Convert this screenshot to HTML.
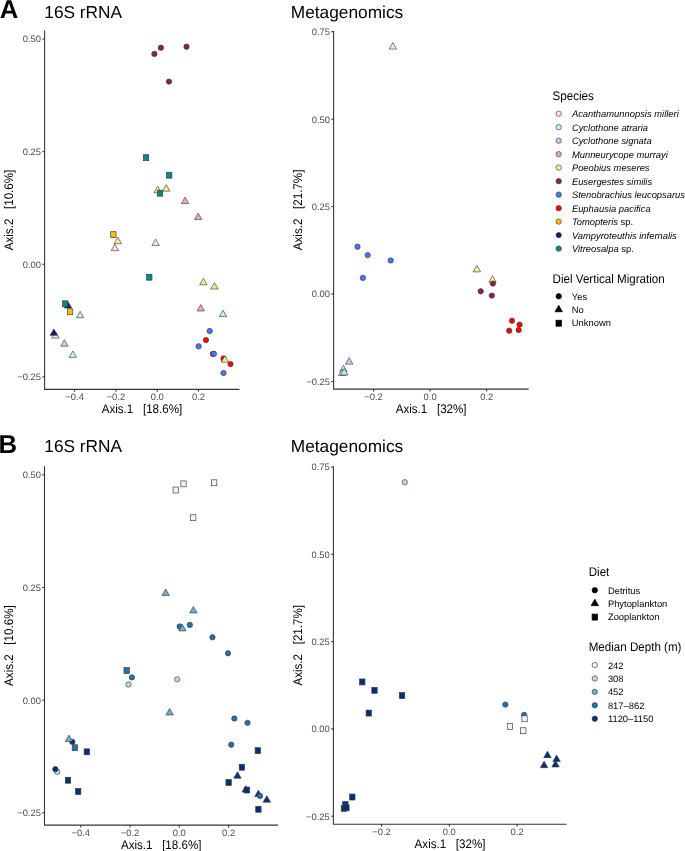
<!DOCTYPE html>
<html><head><meta charset="utf-8"><style>
html,body{margin:0;padding:0;background:#fff;width:685px;height:851px;overflow:hidden}
svg{display:block;will-change:transform}
text{font-family:"Liberation Sans", sans-serif;text-rendering:geometricPrecision;white-space:pre}
</style></head><body>
<svg width="685" height="851" viewBox="0 0 685 851">
<rect width="685" height="851" fill="#fff"/>
<text transform="translate(-0.20,18.00) scale(1,1.0)" font-size="25.7" text-anchor="start" fill="#000" font-weight="bold" font-style="normal" >A</text>
<text transform="translate(-1.60,452.90) scale(1,1.0)" font-size="25.7" text-anchor="start" fill="#000" font-weight="bold" font-style="normal" >B</text>
<text transform="translate(44.30,17.70) scale(1,1.0)" font-size="17.3" text-anchor="start" fill="#000" font-weight="normal" font-style="normal" >16S rRNA</text>
<text transform="translate(290.80,17.70) scale(1,1.0)" font-size="17.3" text-anchor="start" fill="#000" font-weight="normal" font-style="normal" >Metagenomics</text>
<text transform="translate(44.30,452.40) scale(1,1.0)" font-size="17.3" text-anchor="start" fill="#000" font-weight="normal" font-style="normal" >16S rRNA</text>
<text transform="translate(290.80,452.40) scale(1,1.0)" font-size="17.3" text-anchor="start" fill="#000" font-weight="normal" font-style="normal" >Metagenomics</text>
<path d="M44.60,30.50 V389.40 H239.40" fill="none" stroke="#000" stroke-width="1.07" stroke-linecap="butt" stroke-linejoin="miter" opacity="0.8"/>
<line x1="42.30" y1="39.05" x2="44.60" y2="39.05" stroke="#333333" stroke-width="1.07"/>
<text transform="translate(41.00,42.40) scale(1,1.0)" font-size="9.4" text-anchor="end" fill="#4D4D4D" font-weight="normal" font-style="normal" >0.50</text>
<line x1="42.30" y1="151.68" x2="44.60" y2="151.68" stroke="#333333" stroke-width="1.07"/>
<text transform="translate(41.00,155.03) scale(1,1.0)" font-size="9.4" text-anchor="end" fill="#4D4D4D" font-weight="normal" font-style="normal" >0.25</text>
<line x1="42.30" y1="264.30" x2="44.60" y2="264.30" stroke="#333333" stroke-width="1.07"/>
<text transform="translate(41.00,267.65) scale(1,1.0)" font-size="9.4" text-anchor="end" fill="#4D4D4D" font-weight="normal" font-style="normal" >0.00</text>
<line x1="42.30" y1="376.93" x2="44.60" y2="376.93" stroke="#333333" stroke-width="1.07"/>
<text transform="translate(41.00,380.28) scale(1,1.0)" font-size="9.4" text-anchor="end" fill="#4D4D4D" font-weight="normal" font-style="normal" >−0.25</text>
<line x1="74.60" y1="389.40" x2="74.60" y2="391.70" stroke="#333333" stroke-width="1.07"/>
<text transform="translate(74.60,400.30) scale(1,1.0)" font-size="9.4" text-anchor="middle" fill="#4D4D4D" font-weight="normal" font-style="normal" >−0.4</text>
<line x1="115.90" y1="389.40" x2="115.90" y2="391.70" stroke="#333333" stroke-width="1.07"/>
<text transform="translate(115.90,400.30) scale(1,1.0)" font-size="9.4" text-anchor="middle" fill="#4D4D4D" font-weight="normal" font-style="normal" >−0.2</text>
<line x1="157.20" y1="389.40" x2="157.20" y2="391.70" stroke="#333333" stroke-width="1.07"/>
<text transform="translate(157.20,400.30) scale(1,1.0)" font-size="9.4" text-anchor="middle" fill="#4D4D4D" font-weight="normal" font-style="normal" >0.0</text>
<line x1="198.50" y1="389.40" x2="198.50" y2="391.70" stroke="#333333" stroke-width="1.07"/>
<text transform="translate(198.50,400.30) scale(1,1.0)" font-size="9.4" text-anchor="middle" fill="#4D4D4D" font-weight="normal" font-style="normal" >0.2</text>
<text transform="translate(142.00,412.90) scale(1,1.08)" font-size="11.6" text-anchor="middle" fill="#000" font-weight="normal" font-style="normal" xml:space="preserve">Axis.1   [18.6%]</text>
<text x="0" y="0" font-size="11.6" text-anchor="middle" fill="#000" xml:space="preserve" transform="translate(12.90,209.95) rotate(-90) scale(1,1.08)">Axis.2   [10.6%]</text>
<path d="M333.60,30.70 V389.10 H528.70" fill="none" stroke="#000" stroke-width="1.07" stroke-linecap="butt" stroke-linejoin="miter" opacity="0.8"/>
<line x1="331.30" y1="31.70" x2="333.60" y2="31.70" stroke="#333333" stroke-width="1.07"/>
<text transform="translate(330.00,35.05) scale(1,1.0)" font-size="9.4" text-anchor="end" fill="#4D4D4D" font-weight="normal" font-style="normal" >0.75</text>
<line x1="331.30" y1="119.15" x2="333.60" y2="119.15" stroke="#333333" stroke-width="1.07"/>
<text transform="translate(330.00,122.50) scale(1,1.0)" font-size="9.4" text-anchor="end" fill="#4D4D4D" font-weight="normal" font-style="normal" >0.50</text>
<line x1="331.30" y1="206.60" x2="333.60" y2="206.60" stroke="#333333" stroke-width="1.07"/>
<text transform="translate(330.00,209.95) scale(1,1.0)" font-size="9.4" text-anchor="end" fill="#4D4D4D" font-weight="normal" font-style="normal" >0.25</text>
<line x1="331.30" y1="294.05" x2="333.60" y2="294.05" stroke="#333333" stroke-width="1.07"/>
<text transform="translate(330.00,297.40) scale(1,1.0)" font-size="9.4" text-anchor="end" fill="#4D4D4D" font-weight="normal" font-style="normal" >0.00</text>
<line x1="331.30" y1="381.50" x2="333.60" y2="381.50" stroke="#333333" stroke-width="1.07"/>
<text transform="translate(330.00,384.85) scale(1,1.0)" font-size="9.4" text-anchor="end" fill="#4D4D4D" font-weight="normal" font-style="normal" >−0.25</text>
<line x1="373.54" y1="389.10" x2="373.54" y2="391.40" stroke="#333333" stroke-width="1.07"/>
<text transform="translate(373.54,400.00) scale(1,1.0)" font-size="9.4" text-anchor="middle" fill="#4D4D4D" font-weight="normal" font-style="normal" >−0.2</text>
<line x1="430.10" y1="389.10" x2="430.10" y2="391.40" stroke="#333333" stroke-width="1.07"/>
<text transform="translate(430.10,400.00) scale(1,1.0)" font-size="9.4" text-anchor="middle" fill="#4D4D4D" font-weight="normal" font-style="normal" >0.0</text>
<line x1="486.66" y1="389.10" x2="486.66" y2="391.40" stroke="#333333" stroke-width="1.07"/>
<text transform="translate(486.66,400.00) scale(1,1.0)" font-size="9.4" text-anchor="middle" fill="#4D4D4D" font-weight="normal" font-style="normal" >0.2</text>
<text transform="translate(431.15,412.60) scale(1,1.08)" font-size="11.6" text-anchor="middle" fill="#000" font-weight="normal" font-style="normal" xml:space="preserve">Axis.1   [32%]</text>
<text x="0" y="0" font-size="11.6" text-anchor="middle" fill="#000" xml:space="preserve" transform="translate(302.40,209.90) rotate(-90) scale(1,1.08)">Axis.2   [21.7%]</text>
<path d="M44.50,466.10 V825.10 H277.90" fill="none" stroke="#000" stroke-width="1.07" stroke-linecap="butt" stroke-linejoin="miter" opacity="0.8"/>
<line x1="42.20" y1="474.85" x2="44.50" y2="474.85" stroke="#333333" stroke-width="1.07"/>
<text transform="translate(40.90,478.20) scale(1,1.0)" font-size="9.4" text-anchor="end" fill="#4D4D4D" font-weight="normal" font-style="normal" >0.50</text>
<line x1="42.20" y1="587.53" x2="44.50" y2="587.53" stroke="#333333" stroke-width="1.07"/>
<text transform="translate(40.90,590.88) scale(1,1.0)" font-size="9.4" text-anchor="end" fill="#4D4D4D" font-weight="normal" font-style="normal" >0.25</text>
<line x1="42.20" y1="700.20" x2="44.50" y2="700.20" stroke="#333333" stroke-width="1.07"/>
<text transform="translate(40.90,703.55) scale(1,1.0)" font-size="9.4" text-anchor="end" fill="#4D4D4D" font-weight="normal" font-style="normal" >0.00</text>
<line x1="42.20" y1="812.88" x2="44.50" y2="812.88" stroke="#333333" stroke-width="1.07"/>
<text transform="translate(40.90,816.23) scale(1,1.0)" font-size="9.4" text-anchor="end" fill="#4D4D4D" font-weight="normal" font-style="normal" >−0.25</text>
<line x1="80.74" y1="825.10" x2="80.74" y2="827.40" stroke="#333333" stroke-width="1.07"/>
<text transform="translate(80.74,836.00) scale(1,1.0)" font-size="9.4" text-anchor="middle" fill="#4D4D4D" font-weight="normal" font-style="normal" >−0.4</text>
<line x1="130.02" y1="825.10" x2="130.02" y2="827.40" stroke="#333333" stroke-width="1.07"/>
<text transform="translate(130.02,836.00) scale(1,1.0)" font-size="9.4" text-anchor="middle" fill="#4D4D4D" font-weight="normal" font-style="normal" >−0.2</text>
<line x1="179.30" y1="825.10" x2="179.30" y2="827.40" stroke="#333333" stroke-width="1.07"/>
<text transform="translate(179.30,836.00) scale(1,1.0)" font-size="9.4" text-anchor="middle" fill="#4D4D4D" font-weight="normal" font-style="normal" >0.0</text>
<line x1="228.58" y1="825.10" x2="228.58" y2="827.40" stroke="#333333" stroke-width="1.07"/>
<text transform="translate(228.58,836.00) scale(1,1.0)" font-size="9.4" text-anchor="middle" fill="#4D4D4D" font-weight="normal" font-style="normal" >0.2</text>
<text transform="translate(161.20,848.60) scale(1,1.08)" font-size="11.6" text-anchor="middle" fill="#000" font-weight="normal" font-style="normal" xml:space="preserve">Axis.1   [18.6%]</text>
<text x="0" y="0" font-size="11.6" text-anchor="middle" fill="#000" xml:space="preserve" transform="translate(12.90,645.60) rotate(-90) scale(1,1.08)">Axis.2   [10.6%]</text>
<path d="M333.40,466.20 V824.30 H566.70" fill="none" stroke="#000" stroke-width="1.07" stroke-linecap="butt" stroke-linejoin="miter" opacity="0.8"/>
<line x1="331.10" y1="467.00" x2="333.40" y2="467.00" stroke="#333333" stroke-width="1.07"/>
<text transform="translate(329.80,470.35) scale(1,1.0)" font-size="9.4" text-anchor="end" fill="#4D4D4D" font-weight="normal" font-style="normal" >0.75</text>
<line x1="331.10" y1="554.30" x2="333.40" y2="554.30" stroke="#333333" stroke-width="1.07"/>
<text transform="translate(329.80,557.65) scale(1,1.0)" font-size="9.4" text-anchor="end" fill="#4D4D4D" font-weight="normal" font-style="normal" >0.50</text>
<line x1="331.10" y1="641.60" x2="333.40" y2="641.60" stroke="#333333" stroke-width="1.07"/>
<text transform="translate(329.80,644.95) scale(1,1.0)" font-size="9.4" text-anchor="end" fill="#4D4D4D" font-weight="normal" font-style="normal" >0.25</text>
<line x1="331.10" y1="728.90" x2="333.40" y2="728.90" stroke="#333333" stroke-width="1.07"/>
<text transform="translate(329.80,732.25) scale(1,1.0)" font-size="9.4" text-anchor="end" fill="#4D4D4D" font-weight="normal" font-style="normal" >0.00</text>
<line x1="331.10" y1="816.20" x2="333.40" y2="816.20" stroke="#333333" stroke-width="1.07"/>
<text transform="translate(329.80,819.55) scale(1,1.0)" font-size="9.4" text-anchor="end" fill="#4D4D4D" font-weight="normal" font-style="normal" >−0.25</text>
<line x1="381.50" y1="824.30" x2="381.50" y2="826.60" stroke="#333333" stroke-width="1.07"/>
<text transform="translate(381.50,835.20) scale(1,1.0)" font-size="9.4" text-anchor="middle" fill="#4D4D4D" font-weight="normal" font-style="normal" >−0.2</text>
<line x1="449.30" y1="824.30" x2="449.30" y2="826.60" stroke="#333333" stroke-width="1.07"/>
<text transform="translate(449.30,835.20) scale(1,1.0)" font-size="9.4" text-anchor="middle" fill="#4D4D4D" font-weight="normal" font-style="normal" >0.0</text>
<line x1="517.10" y1="824.30" x2="517.10" y2="826.60" stroke="#333333" stroke-width="1.07"/>
<text transform="translate(517.10,835.20) scale(1,1.0)" font-size="9.4" text-anchor="middle" fill="#4D4D4D" font-weight="normal" font-style="normal" >0.2</text>
<text transform="translate(450.05,847.80) scale(1,1.08)" font-size="11.6" text-anchor="middle" fill="#000" font-weight="normal" font-style="normal" xml:space="preserve">Axis.1   [32%]</text>
<text x="0" y="0" font-size="11.6" text-anchor="middle" fill="#000" xml:space="preserve" transform="translate(302.40,645.25) rotate(-90) scale(1,1.08)">Axis.2   [21.7%]</text>
<polygon points="114.90,244.23 118.62,250.67 111.18,250.67" fill="#FFE4E1" stroke="#3a3a3a" stroke-width="0.65" stroke-linejoin="miter"/>
<polygon points="155.60,239.13 159.32,245.57 151.88,245.57" fill="#FFE4E1" stroke="#3a3a3a" stroke-width="0.65" stroke-linejoin="miter"/>
<polygon points="55.40,331.63 59.12,338.07 51.68,338.07" fill="#FFE4E1" stroke="#3a3a3a" stroke-width="0.65" stroke-linejoin="miter"/>
<polygon points="80.10,311.33 83.82,317.77 76.38,317.77" fill="#BFEFFF" stroke="#3a3a3a" stroke-width="0.65" stroke-linejoin="miter"/>
<polygon points="72.90,350.93 76.62,357.37 69.18,357.37" fill="#BFEFFF" stroke="#3a3a3a" stroke-width="0.65" stroke-linejoin="miter"/>
<polygon points="223.00,310.13 226.72,316.57 219.28,316.57" fill="#BFEFFF" stroke="#3a3a3a" stroke-width="0.65" stroke-linejoin="miter"/>
<polygon points="64.40,339.73 68.12,346.17 60.68,346.17" fill="#BFD4F2" stroke="#3a3a3a" stroke-width="0.65" stroke-linejoin="miter"/>
<circle cx="160.90" cy="47.75" r="2.68" fill="#8B1C62" stroke="#3a3a3a" stroke-width="0.65"/>
<circle cx="154.40" cy="53.90" r="2.68" fill="#8B1C62" stroke="#3a3a3a" stroke-width="0.65"/>
<circle cx="186.50" cy="46.70" r="2.68" fill="#8B1C62" stroke="#3a3a3a" stroke-width="0.65"/>
<circle cx="169.00" cy="81.60" r="2.68" fill="#8B1C62" stroke="#3a3a3a" stroke-width="0.65"/>
<circle cx="206.00" cy="340.10" r="2.68" fill="#FF0000" stroke="#3a3a3a" stroke-width="0.65"/>
<circle cx="212.90" cy="354.00" r="2.68" fill="#FF0000" stroke="#3a3a3a" stroke-width="0.65"/>
<circle cx="223.50" cy="358.50" r="2.68" fill="#FF0000" stroke="#3a3a3a" stroke-width="0.65"/>
<circle cx="230.50" cy="364.10" r="2.68" fill="#FF0000" stroke="#3a3a3a" stroke-width="0.65"/>
<polygon points="185.10,197.13 188.82,203.57 181.38,203.57" fill="#EEA9B8" stroke="#3a3a3a" stroke-width="0.65" stroke-linejoin="miter"/>
<polygon points="198.10,213.13 201.82,219.57 194.38,219.57" fill="#EEA9B8" stroke="#3a3a3a" stroke-width="0.65" stroke-linejoin="miter"/>
<polygon points="200.80,304.53 204.52,310.97 197.08,310.97" fill="#EEA9B8" stroke="#3a3a3a" stroke-width="0.65" stroke-linejoin="miter"/>
<polygon points="157.70,186.33 161.42,192.77 153.98,192.77" fill="#FFEC8B" stroke="#3a3a3a" stroke-width="0.65" stroke-linejoin="miter"/>
<polygon points="166.20,184.73 169.92,191.17 162.48,191.17" fill="#FFEC8B" stroke="#3a3a3a" stroke-width="0.65" stroke-linejoin="miter"/>
<polygon points="117.80,237.23 121.52,243.67 114.08,243.67" fill="#FFEC8B" stroke="#3a3a3a" stroke-width="0.65" stroke-linejoin="miter"/>
<polygon points="203.40,278.33 207.12,284.77 199.68,284.77" fill="#FFEC8B" stroke="#3a3a3a" stroke-width="0.65" stroke-linejoin="miter"/>
<polygon points="214.40,282.63 218.12,289.07 210.68,289.07" fill="#FFEC8B" stroke="#3a3a3a" stroke-width="0.65" stroke-linejoin="miter"/>
<polygon points="224.90,355.73 228.62,362.17 221.18,362.17" fill="#FFEC8B" stroke="#3a3a3a" stroke-width="0.65" stroke-linejoin="miter"/>
<circle cx="209.70" cy="331.00" r="2.68" fill="#4876FF" stroke="#3a3a3a" stroke-width="0.65"/>
<circle cx="198.60" cy="346.30" r="2.68" fill="#4876FF" stroke="#3a3a3a" stroke-width="0.65"/>
<circle cx="213.90" cy="353.80" r="2.68" fill="#4876FF" stroke="#3a3a3a" stroke-width="0.65"/>
<circle cx="223.50" cy="373.00" r="2.68" fill="#4876FF" stroke="#3a3a3a" stroke-width="0.65"/>
<rect x="110.72" y="231.72" width="5.36" height="5.96" fill="#FFB90F" stroke="#3a3a3a" stroke-width="0.65"/>
<rect x="67.42" y="308.82" width="5.36" height="5.96" fill="#FFB90F" stroke="#3a3a3a" stroke-width="0.65"/>
<polygon points="53.80,328.93 57.52,335.37 50.08,335.37" fill="#191970" stroke="#3a3a3a" stroke-width="0.65" stroke-linejoin="miter"/>
<polygon points="68.00,301.63 71.72,308.07 64.28,308.07" fill="#191970" stroke="#3a3a3a" stroke-width="0.65" stroke-linejoin="miter"/>
<rect x="143.32" y="154.72" width="5.36" height="5.96" fill="#008B8B" stroke="#3a3a3a" stroke-width="0.65"/>
<rect x="166.52" y="172.22" width="5.36" height="5.96" fill="#008B8B" stroke="#3a3a3a" stroke-width="0.65"/>
<rect x="157.32" y="190.22" width="5.36" height="5.96" fill="#008B8B" stroke="#3a3a3a" stroke-width="0.65"/>
<rect x="146.62" y="274.22" width="5.36" height="5.96" fill="#008B8B" stroke="#3a3a3a" stroke-width="0.65"/>
<rect x="62.52" y="300.82" width="5.36" height="5.96" fill="#008B8B" stroke="#3a3a3a" stroke-width="0.65"/>
<circle cx="128.45" cy="684.41" r="2.68" fill="#BDD7E7" stroke="#3a3a3a" stroke-width="0.65"/>
<circle cx="177.16" cy="679.31" r="2.68" fill="#BDD7E7" stroke="#3a3a3a" stroke-width="0.65"/>
<circle cx="57.26" cy="771.85" r="2.68" fill="#BDD7E7" stroke="#3a3a3a" stroke-width="0.65"/>
<rect x="84.13" y="748.86" width="5.36" height="5.96" fill="#052F78" stroke="#3a3a3a" stroke-width="0.65"/>
<rect x="75.52" y="788.48" width="5.36" height="5.96" fill="#052F78" stroke="#3a3a3a" stroke-width="0.65"/>
<rect x="255.13" y="747.66" width="5.36" height="5.96" fill="#052F78" stroke="#3a3a3a" stroke-width="0.65"/>
<rect x="65.34" y="777.28" width="5.36" height="5.96" fill="#052F78" stroke="#3a3a3a" stroke-width="0.65"/>
<rect x="180.82" y="480.87" width="5.36" height="5.96" fill="#EFF3FF" stroke="#3a3a3a" stroke-width="0.65"/>
<rect x="173.04" y="487.03" width="5.36" height="5.96" fill="#EFF3FF" stroke="#3a3a3a" stroke-width="0.65"/>
<rect x="211.45" y="479.82" width="5.36" height="5.96" fill="#EFF3FF" stroke="#3a3a3a" stroke-width="0.65"/>
<rect x="190.51" y="514.74" width="5.36" height="5.96" fill="#EFF3FF" stroke="#3a3a3a" stroke-width="0.65"/>
<polygon points="237.46,771.74 241.18,778.18 233.75,778.18" fill="#052F78" stroke="#3a3a3a" stroke-width="0.65" stroke-linejoin="miter"/>
<polygon points="245.72,785.65 249.44,792.09 242.00,792.09" fill="#052F78" stroke="#3a3a3a" stroke-width="0.65" stroke-linejoin="miter"/>
<polygon points="258.41,790.15 262.12,796.59 254.69,796.59" fill="#052F78" stroke="#3a3a3a" stroke-width="0.65" stroke-linejoin="miter"/>
<polygon points="266.78,795.75 270.50,802.19 263.06,802.19" fill="#052F78" stroke="#3a3a3a" stroke-width="0.65" stroke-linejoin="miter"/>
<circle cx="212.46" cy="637.29" r="2.68" fill="#2171B5" stroke="#3a3a3a" stroke-width="0.65"/>
<circle cx="228.01" cy="653.30" r="2.68" fill="#2171B5" stroke="#3a3a3a" stroke-width="0.65"/>
<circle cx="231.24" cy="744.74" r="2.68" fill="#2171B5" stroke="#3a3a3a" stroke-width="0.65"/>
<circle cx="179.67" cy="626.49" r="2.68" fill="#2171B5" stroke="#3a3a3a" stroke-width="0.65"/>
<circle cx="189.84" cy="624.89" r="2.68" fill="#2171B5" stroke="#3a3a3a" stroke-width="0.65"/>
<circle cx="131.92" cy="677.41" r="2.68" fill="#2171B5" stroke="#3a3a3a" stroke-width="0.65"/>
<circle cx="234.35" cy="718.53" r="2.68" fill="#2171B5" stroke="#3a3a3a" stroke-width="0.65"/>
<circle cx="247.52" cy="722.83" r="2.68" fill="#2171B5" stroke="#3a3a3a" stroke-width="0.65"/>
<circle cx="260.08" cy="795.96" r="2.68" fill="#2171B5" stroke="#3a3a3a" stroke-width="0.65"/>
<rect x="239.21" y="764.25" width="5.36" height="5.96" fill="#052F78" stroke="#3a3a3a" stroke-width="0.65"/>
<rect x="225.93" y="779.56" width="5.36" height="5.96" fill="#052F78" stroke="#3a3a3a" stroke-width="0.65"/>
<rect x="244.24" y="787.06" width="5.36" height="5.96" fill="#052F78" stroke="#3a3a3a" stroke-width="0.65"/>
<rect x="255.73" y="806.27" width="5.36" height="5.96" fill="#052F78" stroke="#3a3a3a" stroke-width="0.65"/>
<rect x="123.98" y="667.61" width="5.36" height="5.96" fill="#2171B5" stroke="#3a3a3a" stroke-width="0.65"/>
<rect x="72.17" y="744.74" width="5.36" height="5.96" fill="#2171B5" stroke="#3a3a3a" stroke-width="0.65"/>
<circle cx="55.34" cy="769.15" r="2.68" fill="#052F78" stroke="#3a3a3a" stroke-width="0.65"/>
<circle cx="72.33" cy="741.84" r="2.68" fill="#052F78" stroke="#3a3a3a" stroke-width="0.65"/>
<polygon points="165.67,588.96 169.39,595.40 161.95,595.40" fill="#6BAED6" stroke="#3a3a3a" stroke-width="0.65" stroke-linejoin="miter"/>
<polygon points="193.43,606.47 197.15,612.91 189.71,612.91" fill="#6BAED6" stroke="#3a3a3a" stroke-width="0.65" stroke-linejoin="miter"/>
<polygon points="182.42,624.48 186.14,630.91 178.70,630.91" fill="#6BAED6" stroke="#3a3a3a" stroke-width="0.65" stroke-linejoin="miter"/>
<polygon points="169.62,708.51 173.33,714.95 165.90,714.95" fill="#6BAED6" stroke="#3a3a3a" stroke-width="0.65" stroke-linejoin="miter"/>
<polygon points="68.98,735.12 72.70,741.56 65.26,741.56" fill="#6BAED6" stroke="#3a3a3a" stroke-width="0.65" stroke-linejoin="miter"/>
<polygon points="392.90,42.63 396.62,49.07 389.18,49.07" fill="#FFE4E1" stroke="#3a3a3a" stroke-width="0.65" stroke-linejoin="miter"/>
<polygon points="343.40,365.23 347.12,371.67 339.68,371.67" fill="#BFEFFF" stroke="#3a3a3a" stroke-width="0.65" stroke-linejoin="miter"/>
<polygon points="342.20,369.03 345.92,375.47 338.48,375.47" fill="#BFEFFF" stroke="#3a3a3a" stroke-width="0.65" stroke-linejoin="miter"/>
<polygon points="344.30,368.53 348.02,374.97 340.58,374.97" fill="#BFEFFF" stroke="#3a3a3a" stroke-width="0.65" stroke-linejoin="miter"/>
<polygon points="349.20,357.73 352.92,364.17 345.48,364.17" fill="#BFD4F2" stroke="#3a3a3a" stroke-width="0.65" stroke-linejoin="miter"/>
<circle cx="357.50" cy="246.70" r="2.68" fill="#4876FF" stroke="#3a3a3a" stroke-width="0.65"/>
<circle cx="367.70" cy="255.10" r="2.68" fill="#4876FF" stroke="#3a3a3a" stroke-width="0.65"/>
<circle cx="390.70" cy="260.40" r="2.68" fill="#4876FF" stroke="#3a3a3a" stroke-width="0.65"/>
<circle cx="362.90" cy="277.90" r="2.68" fill="#4876FF" stroke="#3a3a3a" stroke-width="0.65"/>
<polygon points="476.90,265.43 480.62,271.87 473.18,271.87" fill="#FFEC8B" stroke="#3a3a3a" stroke-width="0.65" stroke-linejoin="miter"/>
<polygon points="492.50,275.73 496.22,282.17 488.78,282.17" fill="#FFEC8B" stroke="#3a3a3a" stroke-width="0.65" stroke-linejoin="miter"/>
<circle cx="492.90" cy="283.60" r="2.68" fill="#8B1C62" stroke="#3a3a3a" stroke-width="0.65"/>
<circle cx="480.70" cy="291.30" r="2.68" fill="#8B1C62" stroke="#3a3a3a" stroke-width="0.65"/>
<circle cx="491.80" cy="295.60" r="2.68" fill="#8B1C62" stroke="#3a3a3a" stroke-width="0.65"/>
<circle cx="512.00" cy="320.70" r="2.68" fill="#FF0000" stroke="#3a3a3a" stroke-width="0.65"/>
<circle cx="519.60" cy="324.60" r="2.68" fill="#FF0000" stroke="#3a3a3a" stroke-width="0.65"/>
<circle cx="509.20" cy="330.70" r="2.68" fill="#FF0000" stroke="#3a3a3a" stroke-width="0.65"/>
<circle cx="518.70" cy="330.00" r="2.68" fill="#FF0000" stroke="#3a3a3a" stroke-width="0.65"/>
<circle cx="404.71" cy="482.19" r="2.68" fill="#BDD7E7" stroke="#3a3a3a" stroke-width="0.65"/>
<rect x="342.69" y="801.56" width="5.36" height="5.96" fill="#052F78" stroke="#3a3a3a" stroke-width="0.65"/>
<rect x="341.25" y="805.35" width="5.36" height="5.96" fill="#052F78" stroke="#3a3a3a" stroke-width="0.65"/>
<rect x="343.77" y="804.85" width="5.36" height="5.96" fill="#052F78" stroke="#3a3a3a" stroke-width="0.65"/>
<rect x="349.64" y="794.07" width="5.36" height="5.96" fill="#052F78" stroke="#3a3a3a" stroke-width="0.65"/>
<rect x="359.59" y="678.95" width="5.36" height="5.96" fill="#052F78" stroke="#3a3a3a" stroke-width="0.65"/>
<rect x="371.82" y="687.34" width="5.36" height="5.96" fill="#052F78" stroke="#3a3a3a" stroke-width="0.65"/>
<rect x="399.39" y="692.63" width="5.36" height="5.96" fill="#052F78" stroke="#3a3a3a" stroke-width="0.65"/>
<rect x="366.07" y="710.10" width="5.36" height="5.96" fill="#052F78" stroke="#3a3a3a" stroke-width="0.65"/>
<circle cx="505.40" cy="704.61" r="2.68" fill="#2171B5" stroke="#3a3a3a" stroke-width="0.65"/>
<circle cx="524.10" cy="714.89" r="2.68" fill="#2171B5" stroke="#3a3a3a" stroke-width="0.65"/>
<rect x="521.90" y="715.79" width="5.36" height="5.96" fill="#EFF3FF" stroke="#3a3a3a" stroke-width="0.65"/>
<rect x="507.28" y="723.47" width="5.36" height="5.96" fill="#EFF3FF" stroke="#3a3a3a" stroke-width="0.65"/>
<rect x="520.58" y="727.77" width="5.36" height="5.96" fill="#EFF3FF" stroke="#3a3a3a" stroke-width="0.65"/>
<polygon points="547.48,751.21 551.19,757.65 543.76,757.65" fill="#052F78" stroke="#3a3a3a" stroke-width="0.65" stroke-linejoin="miter"/>
<polygon points="556.59,755.10 560.30,761.54 552.87,761.54" fill="#052F78" stroke="#3a3a3a" stroke-width="0.65" stroke-linejoin="miter"/>
<polygon points="544.12,761.19 547.84,767.63 540.40,767.63" fill="#052F78" stroke="#3a3a3a" stroke-width="0.65" stroke-linejoin="miter"/>
<polygon points="555.51,760.50 559.22,766.93 551.79,766.93" fill="#052F78" stroke="#3a3a3a" stroke-width="0.65" stroke-linejoin="miter"/>
<text transform="translate(552.60,99.80) scale(1,1.08)" font-size="11.6" text-anchor="start" fill="#000" font-weight="normal" font-style="normal" >Species</text>
<circle cx="558.70" cy="113.70" r="2.68" fill="#FFE4E1" stroke="#3a3a3a" stroke-width="0.65"/>
<text transform="translate(571.90,117.30) scale(1,1.0)" font-size="9.4" fill="#000" xml:space="preserve"><tspan font-style="italic">Acanthamunnopsis milleri</tspan></text>
<circle cx="558.70" cy="127.19" r="2.68" fill="#BFEFFF" stroke="#3a3a3a" stroke-width="0.65"/>
<text transform="translate(571.90,130.79) scale(1,1.0)" font-size="9.4" fill="#000" xml:space="preserve"><tspan font-style="italic">Cyclothone atraria</tspan></text>
<circle cx="558.70" cy="140.68" r="2.68" fill="#BFD4F2" stroke="#3a3a3a" stroke-width="0.65"/>
<text transform="translate(571.90,144.28) scale(1,1.0)" font-size="9.4" fill="#000" xml:space="preserve"><tspan font-style="italic">Cyclothone signata</tspan></text>
<circle cx="558.70" cy="154.17" r="2.68" fill="#EEA9B8" stroke="#3a3a3a" stroke-width="0.65"/>
<text transform="translate(571.90,157.77) scale(1,1.0)" font-size="9.4" fill="#000" xml:space="preserve"><tspan font-style="italic">Munneurycope murrayi</tspan></text>
<circle cx="558.70" cy="167.66" r="2.68" fill="#FFEC8B" stroke="#3a3a3a" stroke-width="0.65"/>
<text transform="translate(571.90,171.26) scale(1,1.0)" font-size="9.4" fill="#000" xml:space="preserve"><tspan font-style="italic">Poeobius meseres</tspan></text>
<circle cx="558.70" cy="181.15" r="2.68" fill="#8B1C62" stroke="#3a3a3a" stroke-width="0.65"/>
<text transform="translate(571.90,184.75) scale(1,1.0)" font-size="9.4" fill="#000" xml:space="preserve"><tspan font-style="italic">Eusergestes similis</tspan></text>
<circle cx="558.70" cy="194.64" r="2.68" fill="#4876FF" stroke="#3a3a3a" stroke-width="0.65"/>
<text transform="translate(571.90,198.24) scale(1,1.0)" font-size="9.4" fill="#000" xml:space="preserve"><tspan font-style="italic">Stenobrachius leucopsarus</tspan></text>
<circle cx="558.70" cy="208.13" r="2.68" fill="#FF0000" stroke="#3a3a3a" stroke-width="0.65"/>
<text transform="translate(571.90,211.73) scale(1,1.0)" font-size="9.4" fill="#000" xml:space="preserve"><tspan font-style="italic">Euphausia pacifica</tspan></text>
<circle cx="558.70" cy="221.62" r="2.68" fill="#FFB90F" stroke="#3a3a3a" stroke-width="0.65"/>
<text transform="translate(571.90,225.22) scale(1,1.0)" font-size="9.4" fill="#000" xml:space="preserve"><tspan font-style="italic">Tomopteris</tspan><tspan> sp.</tspan></text>
<circle cx="558.70" cy="235.11" r="2.68" fill="#191970" stroke="#3a3a3a" stroke-width="0.65"/>
<text transform="translate(571.90,238.71) scale(1,1.0)" font-size="9.4" fill="#000" xml:space="preserve"><tspan font-style="italic">Vampyroteuthis infernalis</tspan></text>
<circle cx="558.70" cy="248.60" r="2.68" fill="#008B8B" stroke="#3a3a3a" stroke-width="0.65"/>
<text transform="translate(571.90,252.20) scale(1,1.0)" font-size="9.4" fill="#000" xml:space="preserve"><tspan font-style="italic">Vitreosalpa</tspan><tspan> sp.</tspan></text>
<text transform="translate(552.60,282.50) scale(1,1.08)" font-size="11.6" text-anchor="start" fill="#000" font-weight="normal" font-style="normal" >Diel Vertical Migration</text>
<circle cx="558.70" cy="296.30" r="2.68" fill="#000" stroke="#000" stroke-width="0.75"/>
<text transform="translate(571.80,299.80) scale(1,1.0)" font-size="9.4" text-anchor="start" fill="#000" font-weight="normal" font-style="normal" >Yes</text>
<polygon points="558.70,305.31 562.42,311.75 554.98,311.75" fill="#000" stroke="#000" stroke-width="0.75" stroke-linejoin="miter"/>
<text transform="translate(571.80,313.10) scale(1,1.0)" font-size="9.4" text-anchor="start" fill="#000" font-weight="normal" font-style="normal" >No</text>
<rect x="556.02" y="320.22" width="5.36" height="5.96" fill="#000" stroke="#000" stroke-width="0.75"/>
<text transform="translate(571.80,326.40) scale(1,1.0)" font-size="9.4" text-anchor="start" fill="#000" font-weight="normal" font-style="normal" >Unknown</text>
<text transform="translate(588.70,576.40) scale(1,1.08)" font-size="11.6" text-anchor="start" fill="#000" font-weight="normal" font-style="normal" >Diet</text>
<circle cx="594.80" cy="590.20" r="2.68" fill="#000" stroke="#000" stroke-width="0.75"/>
<text transform="translate(607.90,593.70) scale(1,1.0)" font-size="9.4" text-anchor="start" fill="#000" font-weight="normal" font-style="normal" >Detritus</text>
<polygon points="594.80,599.21 598.52,605.65 591.08,605.65" fill="#000" stroke="#000" stroke-width="0.75" stroke-linejoin="miter"/>
<text transform="translate(607.90,607.00) scale(1,1.0)" font-size="9.4" text-anchor="start" fill="#000" font-weight="normal" font-style="normal" >Phytoplankton</text>
<rect x="592.12" y="614.12" width="5.36" height="5.96" fill="#000" stroke="#000" stroke-width="0.75"/>
<text transform="translate(607.90,620.30) scale(1,1.0)" font-size="9.4" text-anchor="start" fill="#000" font-weight="normal" font-style="normal" >Zooplankton</text>
<text transform="translate(588.70,650.90) scale(1,1.08)" font-size="11.6" text-anchor="start" fill="#000" font-weight="normal" font-style="normal" >Median Depth (m)</text>
<circle cx="594.80" cy="665.00" r="2.68" fill="#EFF3FF" stroke="#3a3a3a" stroke-width="0.65"/>
<text transform="translate(607.90,668.50) scale(1,1.0)" font-size="9.4" text-anchor="start" fill="#000" font-weight="normal" font-style="normal" >242</text>
<circle cx="594.80" cy="678.43" r="2.68" fill="#BDD7E7" stroke="#3a3a3a" stroke-width="0.65"/>
<text transform="translate(607.90,681.93) scale(1,1.0)" font-size="9.4" text-anchor="start" fill="#000" font-weight="normal" font-style="normal" >308</text>
<circle cx="594.80" cy="691.86" r="2.68" fill="#6BAED6" stroke="#3a3a3a" stroke-width="0.65"/>
<text transform="translate(607.90,695.36) scale(1,1.0)" font-size="9.4" text-anchor="start" fill="#000" font-weight="normal" font-style="normal" >452</text>
<circle cx="594.80" cy="705.29" r="2.68" fill="#2171B5" stroke="#3a3a3a" stroke-width="0.65"/>
<text transform="translate(607.90,708.79) scale(1,1.0)" font-size="9.4" text-anchor="start" fill="#000" font-weight="normal" font-style="normal" >817–862</text>
<circle cx="594.80" cy="718.72" r="2.68" fill="#052F78" stroke="#3a3a3a" stroke-width="0.65"/>
<text transform="translate(607.90,722.22) scale(1,1.0)" font-size="9.4" text-anchor="start" fill="#000" font-weight="normal" font-style="normal" >1120–1150</text>
</svg></body></html>
